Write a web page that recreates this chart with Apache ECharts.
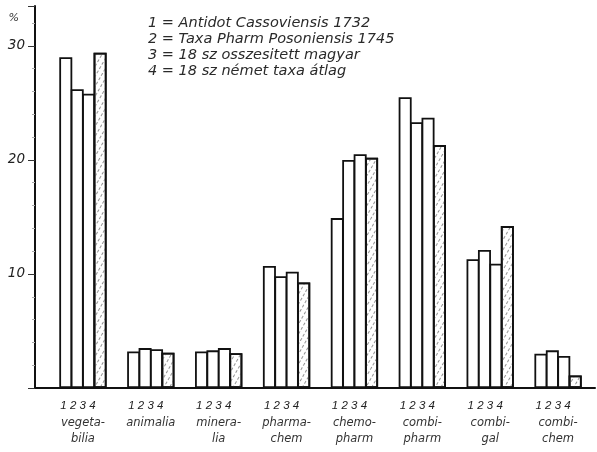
<!DOCTYPE html>
<html>
<head>
<meta charset="utf-8">
<script src="https://cdn.jsdelivr.net/npm/echarts@6/dist/echarts.min.js"></script>
<style>html,body{margin:0;padding:0;background:#fff;}#c{width:597px;height:452px;}</style>
</head>
<body>
<div id="c"></div>
<script>
const categories = ['vegeta-\nbilia', 'animalia', 'minera-\nlia', 'pharma-\nchem', 'chemo-\npharm', 'combi-\npharm', 'combi-\ngal', 'combi-\nchem'];
const seriesNames = ['1 = Antidot Cassoviensis 1732', '2 = Taxa Pharm Posoniensis 1745', '3 = 18 sz osszesitett magyar', '4 = 18 sz német taxa átlag'];
const s1 = [29.0, 3.2, 3.2, 10.7, 14.9, 25.5, 11.3, 3.0];
const s2 = [26.2, 3.5, 3.3, 9.8, 20.0, 23.3, 12.1, 3.3];
const s3 = [25.8, 3.4, 3.5, 10.2, 20.5, 23.7, 10.9, 2.8];
const s4 = [29.4, 3.1, 3.05, 9.25, 20.2, 21.3, 14.2, 1.1];
const barLabels = '1 2 3 4';
const yTicks = [10, 20, 30];

const font = 'DejaVu Sans';
const chart = echarts.init(document.getElementById('c'), null, {renderer: 'canvas'});
const values = [s1, s2, s3, s4];

const series = values.map((v, i) => ({
  name: seriesNames[i],
  type: 'bar',
  xAxisIndex: 1,
  yAxisIndex: 1,
  data: v,
  barWidth: 13,
  barGap: '-12%',
  itemStyle: i === 3 ? {
    color: '#fff', borderColor: '#111', borderWidth: 1.8,
    decal: {symbol: 'rect', color: 'rgba(120,120,120,0.8)', dashArrayX: [3, 2], dashArrayY: [1, 4], rotation: -Math.PI / 3, symbolSize: 1}
  } : {color: '#fff', borderColor: '#111', borderWidth: 1.8},
  emphasis: {disabled: true},
  animation: false
}));

chart.setOption({
  animation: false,
  backgroundColor: '#fff',
  title: {
    text: seriesNames.join('\n'),
    left: 143, top: 10,
    textStyle: {fontFamily: font, fontStyle: 'italic', fontWeight: 'normal', fontSize: 14.5, color: '#2a2a2a', lineHeight: 16}
  },
  grid: [
    {left: 35, right: 2, top: 6, bottom: 64},
    {left: 49, right: 5, top: 6, bottom: 64}
  ],
  xAxis: [
    {type: 'category', gridIndex: 0, data: categories, axisLine: {show: true, lineStyle: {color: '#111', width: 2}},
     axisTick: {show: false}, axisLabel: {show: false}, splitLine: {show: false}},
    {type: 'category', gridIndex: 1, data: categories, axisLine: {show: false}, axisTick: {show: false},
     axisLabel: {
       interval: 0, margin: 8, lineHeight: 16,
       formatter: (val) => '{n|' + barLabels + '}\n' + val.split('\n').map(s => '{c|' + s + '}').join('\n'),
       rich: {
         n: {fontFamily: 'Liberation Sans', fontStyle: 'italic', fontSize: 11.5, color: '#222', lineHeight: 19, padding: [0, 10, 0, 0]},
         c: {fontFamily: font, fontStyle: 'italic', fontSize: 11.5, color: '#333', lineHeight: 16}
       }
     }}
  ],
  yAxis: [
    {type: 'value', gridIndex: 0, min: 0, max: 33.5, interval: 10,
     name: '%', nameLocation: 'end', nameGap: -18,
     nameTextStyle: {fontFamily: font, fontStyle: 'italic', fontSize: 11, color: '#333', align: 'right', padding: [0, 16, 0, 0]},
     axisLine: {show: true, lineStyle: {color: '#111', width: 2}},
     axisTick: {show: true, length: 7, lineStyle: {color: '#333', width: 1}},
     minorTick: {show: true, splitNumber: 5, length: 3, lineStyle: {color: '#aaa'}},
     axisLabel: {margin: 10, showMaxLabel: false, fontFamily: font, fontStyle: 'italic', fontSize: 13.5, color: '#222',
       formatter: (v) => yTicks.indexOf(v) >= 0 ? String(v) : ''},
     splitLine: {show: false}},
    {type: 'value', gridIndex: 1, min: 0, max: 33.5, interval: 10, show: false, splitLine: {show: false}}
  ],
  series: series
});
</script>
</body>
</html>
